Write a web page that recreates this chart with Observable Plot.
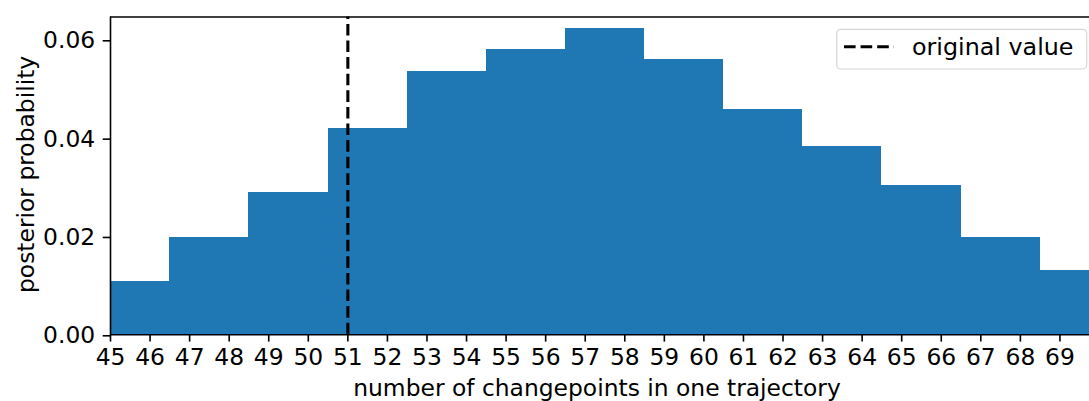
<!DOCTYPE html>
<html>
<head>
<meta charset="utf-8">
<script src="https://cdn.jsdelivr.net/npm/d3@7"></script>
<script src="https://cdn.jsdelivr.net/npm/@observablehq/plot@0.6"></script>
<style>
  html, body { margin: 0; padding: 0; background: #fff; }
  #wrap { position: relative; width: 1089px; height: 401px; overflow: hidden; font-family: "DejaVu Sans", sans-serif; }
  #chart svg { max-width: none !important; }
  #legend { position: absolute; left: 0; top: 0; pointer-events: none; }
</style>
</head>
<body>
<div id="wrap"><div id="chart"></div>
  <svg id="legend" width="1089" height="401" font-family="DejaVu Sans" font-size="23.8">
    <rect x="836.7" y="29.3" width="250" height="39.7" rx="4" ry="4" fill="rgba(255,255,255,0.8)" stroke="#d6d6d6" stroke-width="1.2"/>
    <line x1="844" y1="46.7" x2="894" y2="46.7" stroke="#000" stroke-width="3.1" stroke-dasharray="11.6,5"/>
    <text id="legtext" x="912" y="55" fill="#000"></text>
  </svg>
</div>
<script>
// bin edges (number of changepoints) and posterior probabilities
const binLo = [44.5, 46.5, 48.5, 50.5, 52.5, 54.5, 56.5, 58.5, 60.5, 62.5, 64.5, 66.5, 68.5];
const binHi = [46.5, 48.5, 50.5, 52.5, 54.5, 56.5, 58.5, 60.5, 62.5, 64.5, 66.5, 68.5, 70.5];
const prob  = [0.0108, 0.0197, 0.0289, 0.0420, 0.0535, 0.0580, 0.0624, 0.0559, 0.0459, 0.0382, 0.0303, 0.0197, 0.0130];
const originalValue = [51];
const xTicks = d3.range(45, 70);
const yTicks = [0, 0.02, 0.04, 0.06];
const xDomain = [45, 70];
const yDomain = [0, 0.06464];
const xLabel = "number of changepoints in one trajectory";
const yLabel = "posterior probability";
const legendLabel = "original value";

const bars = binLo.map((lo, i) => ({lo, hi: binHi[i], p: prob[i]}));
document.getElementById("legtext").textContent = legendLabel;

const chart = Plot.plot({
  width: 1099,
  height: 401,
  marginLeft: 110,
  marginRight: 0,
  marginTop: 16.5,
  marginBottom: 66.7,
  style: {fontFamily: "DejaVu Sans", fontSize: "23.4px", color: "#000", background: "#fff", overflow: "visible", maxWidth: "none"},
  x: {domain: xDomain},
  y: {domain: yDomain},
  marks: [
    Plot.rectY(bars, {x1: "lo", x2: "hi", y: "p", fill: "#1f77b4", shapeRendering: "crispEdges", clip: true}),
    Plot.ruleX(originalValue, {y1: yDomain[0], y2: yDomain[1], stroke: "#000", strokeWidth: 3.1, strokeDasharray: "11.6,5"}),
    Plot.ruleX([xDomain[0]], {stroke: "#000", strokeWidth: 1.6}),
    Plot.ruleY([yDomain[0]], {stroke: "#000", strokeWidth: 1.6}),
    Plot.ruleY([yDomain[1]], {stroke: "#000", strokeWidth: 1.6}),
    Plot.axisX({ticks: xTicks, tickFormat: d => String(d), tickSize: 7.3, tickPadding: 6, strokeWidth: 1.6, label: null, fill: "#000", stroke: "#000"}),
    Plot.axisY({ticks: yTicks, tickFormat: d3.format(".2f"), tickSize: 7.3, tickPadding: 8, dy: 1, strokeWidth: 1.6, label: null, fill: "#000", stroke: "#000"}),
    Plot.text([xLabel], {frameAnchor: "bottom", dx: -8, dy: 53.3, text: d => d, fill: "#000", textAnchor: "middle", lineAnchor: "middle"}),
    Plot.text([yLabel], {frameAnchor: "left", dx: -84.4, dy: -1.5, rotate: -90, text: d => d, fill: "#000", textAnchor: "middle", lineAnchor: "middle"})
  ]
});
document.getElementById("chart").appendChild(chart);
</script>
</body>
</html>
